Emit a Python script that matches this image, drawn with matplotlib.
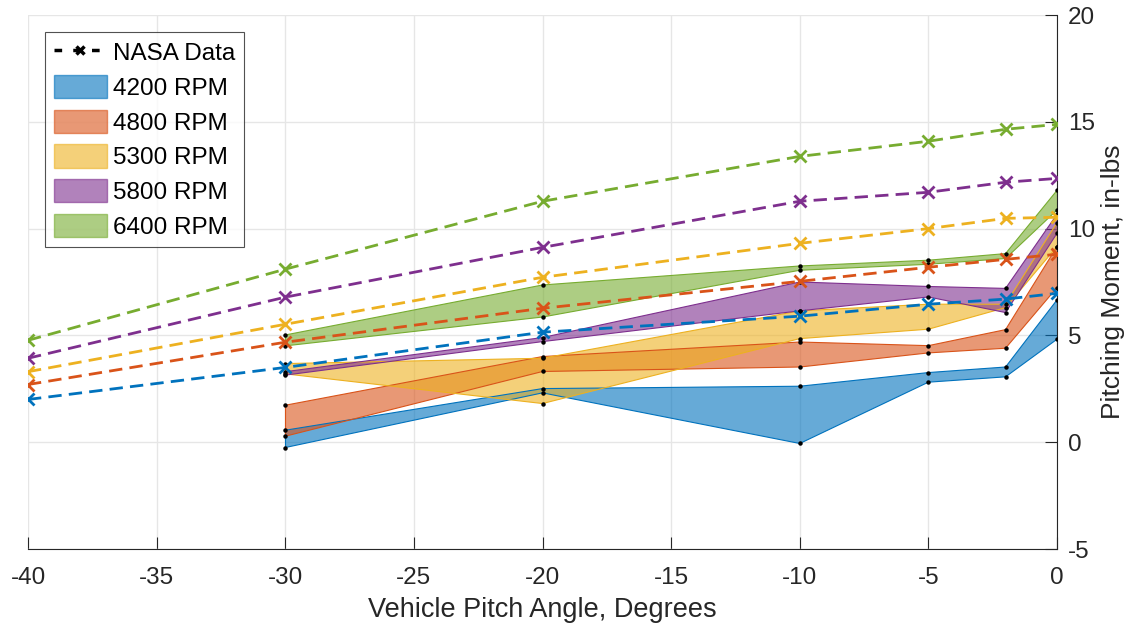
import matplotlib
matplotlib.use("Agg")
import matplotlib.pyplot as plt
from matplotlib.lines import Line2D
from matplotlib.patches import Patch

plt.rcParams['font.family'] = ['Liberation Sans', 'DejaVu Sans']
plt.rcParams['axes.unicode_minus'] = False

# NASA data
nasa_x = [-40, -30, -20, -10, -5, -2, 0]
nasa_4200 = [2.0, 3.5, 5.15, 5.9, 6.46, 6.7, 6.97]
nasa_4800 = [2.7, 4.68, 6.27, 7.53, 8.19, 8.56, 8.8]
nasa_5300 = [3.3, 5.52, 7.72, 9.31, 10.0, 10.48, 10.53]
nasa_5800 = [3.93, 6.79, 9.12, 11.28, 11.7, 12.17, 12.35]
nasa_6400 = [4.77, 8.1, 11.28, 13.38, 14.09, 14.65, 14.88]

# Measured bands
band_x = [-30, -20, -10, -5, -2, 0]
low_4200 = [-0.25, 2.31, -0.06, 2.81, 3.06, 4.82]
high_4200 = [0.56, 2.51, 2.62, 3.26, 3.52, 6.66]
low_4800 = [0.28, 3.31, 3.52, 4.18, 4.40, 7.24]
high_4800 = [1.73, 4.01, 4.69, 4.52, 5.27, 9.16]
low_5300 = [3.2, 1.81, 4.85, 5.29, 6.30, 9.16]
high_5300 = [3.68, 3.93, 6.15, 6.46, 6.46, 10.28]
low_5800 = [3.14, 4.71, 6.15, 6.80, 6.07, 9.78]
high_5800 = [3.30, 4.90, 7.50, 7.29, 7.20, 10.67]
low_6400 = [4.51, 5.86, 8.05, 8.33, 8.60, 10.87]
high_6400 = [5.02, 7.36, 8.25, 8.52, 8.83, 11.79]

labels = ['4200 RPM', '4800 RPM', '5300 RPM', '5800 RPM', '6400 RPM']
colors = ['#0072BD', '#D95319', '#EDB120', '#7E2F8E', '#77AC30']
lows = [low_4200, low_4800, low_5300, low_5800, low_6400]
highs = [high_4200, high_4800, high_5300, high_5800, high_6400]
nasa = [nasa_4200, nasa_4800, nasa_5300, nasa_5800, nasa_6400]

fig = plt.figure(figsize=(11.43, 6.32), dpi=100)
ax = fig.add_axes([28/1143, 83/632, (1057-28)/1143, (549-15)/632])

for lo, hi, c in zip(lows, highs, colors):
    ax.fill_between(band_x, lo, hi, facecolor=c, alpha=0.6, edgecolor='none', zorder=2)
    ax.plot(band_x, lo, color=c, lw=0.8, zorder=3)
    ax.plot(band_x, hi, color=c, lw=0.8, zorder=3)
    ax.plot([band_x[0], band_x[0]], [lo[0], hi[0]], color=c, lw=0.8, zorder=3)
    ax.plot([band_x[-1], band_x[-1]], [lo[-1], hi[-1]], color=c, lw=0.8, zorder=3)
for lo, hi in zip(lows, highs):
    ax.plot(band_x, lo, ls='none', marker='o', ms=2.2, color='black', zorder=4)
    ax.plot(band_x, hi, ls='none', marker='o', ms=2.2, color='black', zorder=4)

for y, c in zip(nasa, colors):
    ax.plot(nasa_x, y, ls=(0, (4.8, 2.6)), lw=2, color=c, marker='x', ms=8, mew=2, zorder=5)

ax.set_xlim(-40, 0)
ax.set_ylim(-5, 20)
ax.set_xticks(range(-40, 1, 5))
ax.set_yticks(range(-5, 21, 5))
ax.yaxis.tick_right()
ax.yaxis.set_label_position('right')
ax.spines['top'].set_visible(False)
ax.spines['left'].set_visible(False)
ax.spines['right'].set_color('#262626')
ax.spines['bottom'].set_color('#262626')
ax.tick_params(direction='in', length=9, labelsize=17.5, colors='#262626')
ax.tick_params(axis='x', pad=13)
ax.tick_params(axis='y', pad=8)
ax.grid(True, color='#E6E6E6', lw=1)
ax.set_axisbelow(True)
ax.set_xlabel('Vehicle Pitch Angle, Degrees', fontsize=19.5, color='#262626', labelpad=6)
ax.set_ylabel('Pitching Moment, in-lbs', fontsize=19, color='#262626', labelpad=4.5)

handles = [Line2D([0], [0], color='black', ls=(0, (2.2, 3.2)), lw=2.5, marker='x', ms=6, mew=2.5)]
for c in colors:
    handles.append(Patch(facecolor=c, alpha=0.6, edgecolor=c, lw=1))
leg = fig.legend(handles, ['NASA Data'] + labels, loc='upper left',
                 bbox_to_anchor=(45/1143, 1 - 32/632), borderaxespad=0,
                 fontsize=17.5, frameon=True, fancybox=False, edgecolor='#262626',
                 handlelength=2.2, handleheight=1.1, labelspacing=0.4,
                 handletextpad=0.25, borderpad=0.35)
leg.get_frame().set_linewidth(0.8)

fig.savefig('out.png', dpi=100)
